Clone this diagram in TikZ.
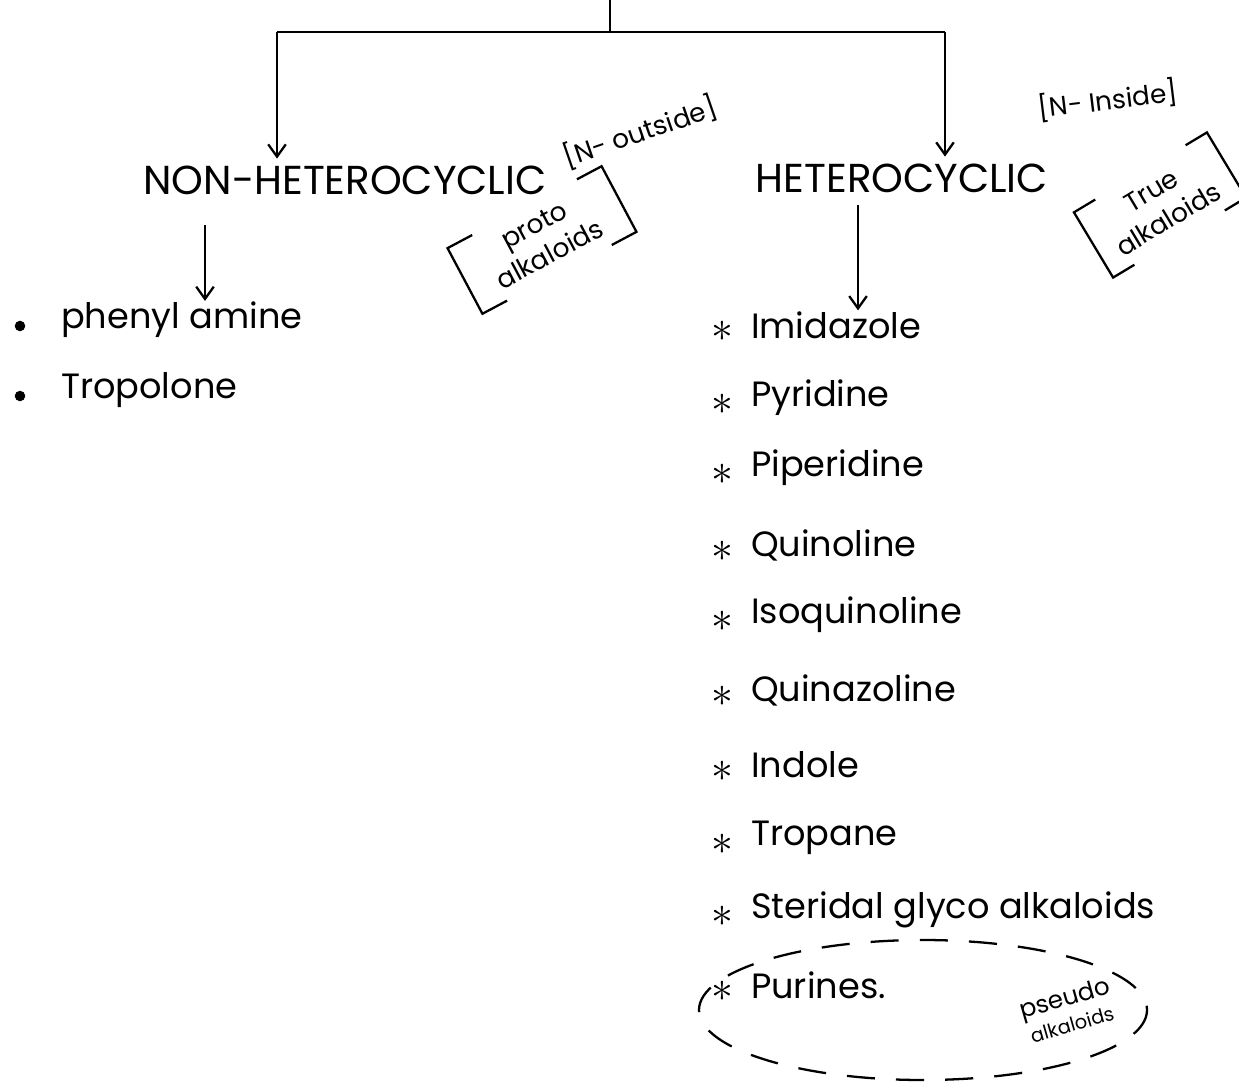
\documentclass[tikz,border=0pt]{standalone}
\usepackage{fontspec}
\setmainfont{Poppins}
\usetikzlibrary{arrows.meta,calc}
\tikzset{
  head/.style={font=\fontsize{23}{26}\selectfont},
  item/.style={anchor=west, inner sep=0pt, font=\fontsize{20}{23}\selectfont},
  note/.style={inner sep=0pt, align=center, font=\fontsize{15}{19}\selectfont},
  star/.style={inner sep=0pt, font=\fontsize{26}{26}\selectfont}
}
\newcommand{\brackbox}[1]{%
  \draw ($(#1.north west)!0.16!(#1.north east)$) -- (#1.north west) -- (#1.south west) -- ($(#1.south west)!0.16!(#1.south east)$);
  \draw ($(#1.north east)!0.16!(#1.north west)$) -- (#1.north east) -- (#1.south east) -- ($(#1.south east)!0.16!(#1.south west)$);}
\begin{document}
\begin{tikzpicture}[x=0.02cm, y=-0.02cm, >={Straight Barb[length=7pt,width=10pt]}, line width=1.3pt]
  \useasboundingbox (0,0) rectangle (1239,1091);

  % Verzweigung oben
  \coordinate (top) at (610,0);
  \coordinate (mid) at (610,32);
  \coordinate (lcorner) at (277,32);
  \coordinate (rcorner) at (945,32);
  \node[head] (nonhet) at (345,180) {NON-HETEROCYCLIC};
  \node[head] (het) at (902,178) {HETEROCYCLIC};
  \draw (top) -- (mid);
  \draw (lcorner) -- (rcorner);
  \draw[->] (lcorner) -- (lcorner |- nonhet.north);
  \draw[->] (rcorner) -- (rcorner |- het.north);

  % Anmerkungen
  \node[note, inner sep=2pt, rotate=19] (nout) at (640,132) {[N- outside]};
  \node[note, inner sep=2pt, rotate=7] (nin) at (1108,100) {[N- Inside]};
  \node[note, rotate=28, minimum width=98pt, minimum height=41pt] (proto) at (542,240) {proto\\alkaloids};
  \brackbox{proto}
  \node[note, rotate=31, minimum width=87pt, minimum height=42pt] (true) at (1160,205) {True\\alkaloids};
  \brackbox{true}

  % linke Liste
  \coordinate (larr) at (205,225);
  \coordinate (rarr) at (858,205);
  \node[item] (phenyl) at (60,320) {phenyl amine};
  \node[item] (tropolone) at (60,390) {Tropolone};
  \fill (20,326) circle (3pt);
  \fill (20,396) circle (3pt);
  \draw[->] (larr) -- (larr |- phenyl.north);

  % rechte Liste
  \foreach \name/\txt/\yy in {imid/Imidazole/325, pyr/Pyridine/398, pip/Piperidine/468,
      quin/Quinoline/545, isoq/Isoquinoline/615, quinaz/Quinazoline/690,
      indole/Indole/765, trop/Tropane/838, ster/Steridal glyco alkaloids/910, pur/Purines./985} {
    \node[star] at (722,\yy+6) {$\ast$};
    \node[item] (\name) at (750,\yy) {\txt};
  }
  \draw[->] (rarr) -- (rarr |- imid.north);

  % Pseudoalkaloide
  \node[note, inner sep=1pt, rotate=16, font=\fontsize{14}{15}\selectfont] (pseudo) at (1068,1010) {pseudo\\\fontsize{11}{12}\selectfont alkaloids};
  \draw[dash pattern=on 16pt off 12pt] (923,1010) ellipse (224 and 70);
\end{tikzpicture}
\end{document}
